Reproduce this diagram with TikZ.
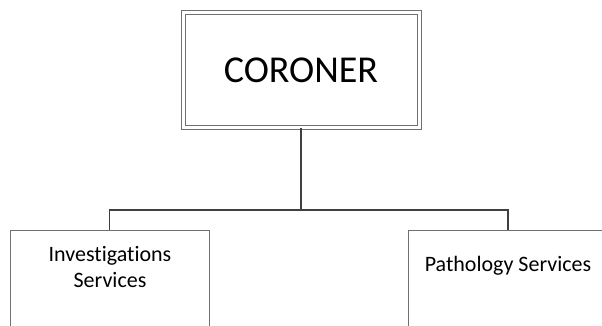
\documentclass[tikz,border=0pt]{standalone}
\usepackage{fontspec}
\setmainfont{Carlito}[Ligatures=NoCommon]
\definecolor{bordercol}{HTML}{707070}
\definecolor{linkcol}{HTML}{404040}
\begin{document}
\begin{tikzpicture}[x=1pt,y=-1pt,
  boxstyle/.style={draw=bordercol, line width=1pt, fill=white, inner sep=0pt},
  linkstyle/.style={draw=linkcol, line width=1.6pt},
  smalltext/.style={font=\fontsize{22}{26}\selectfont, inner sep=0pt, align=center}]
\useasboundingbox (0,0) rectangle (602,326);
\clip (0,0) rectangle (602,326);
% top box with double border
\node[draw=bordercol, line width=1pt, double=white, double distance=3pt,
      minimum width=236pt, minimum height=115.3pt, inner sep=0pt]
      (cor) at (301,70.35) {};
\node[font=\fontsize{38}{45}\selectfont, anchor=base, inner sep=0pt] (cortext) at (301,82.7) {CORONER};
% lower boxes (cut by the lower edge)
\node[boxstyle, minimum width=199pt, minimum height=140pt, anchor=north] (inv) at (109.5,230) {};
\node[boxstyle, minimum width=200pt, minimum height=140pt, anchor=north] (path) at (508,230) {};
\node[smalltext, anchor=north] (invtext) at (110,246) {Investigations\\Services};
\node[smalltext, anchor=base] (pathtext) at (508,271.7) {Pathology Services};
% connectors
\coordinate (j) at (301,210);
\draw[linkstyle] (cor.south) -- (j);
\draw[linkstyle] (inv.north) |- (j) -| (path.north);
\end{tikzpicture}
\end{document}
